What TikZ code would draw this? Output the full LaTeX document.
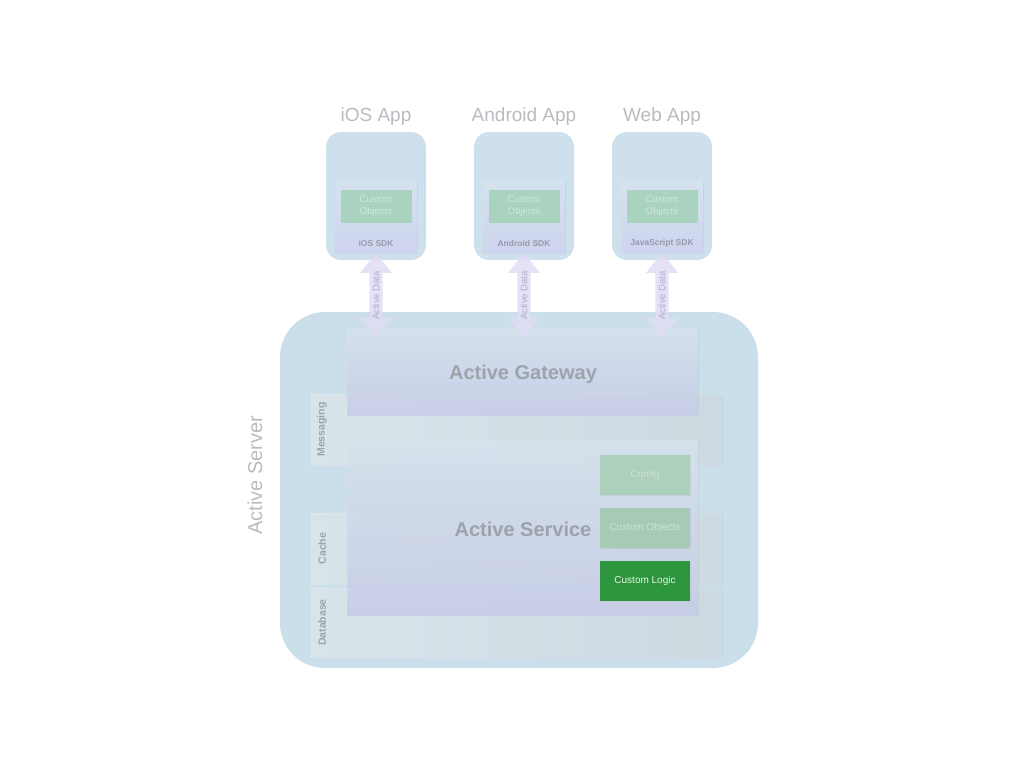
\documentclass[tikz,border=0pt]{standalone}
\usepackage{fontspec}
\setmainfont{Liberation Sans}
\usetikzlibrary{shapes.arrows,shadows}

\definecolor{srvblue}{RGB}{203,223,234}
\definecolor{appblue}{RGB}{205,224,236}
\definecolor{sdktop}{RGB}{212,227,238}
\definecolor{sdkbottom}{RGB}{206,212,238}
\definecolor{sdkgreen}{RGB}{170,211,191}
\definecolor{objtext}{RGB}{206,230,218}
\definecolor{gwtop}{RGB}{216,229,239}
\definecolor{gwbottom}{RGB}{200,205,234}
\definecolor{bandleft}{RGB}{222,233,238}
\definecolor{bandright}{RGB}{208,220,226}
\definecolor{fadegreen}{RGB}{172,208,186}
\definecolor{parttext}{RGB}{204,227,212}
\definecolor{logicgreen}{RGB}{45,150,60}
\definecolor{logictext}{RGB}{232,242,232}
\definecolor{titlegray}{RGB}{184,187,191}
\definecolor{labelgray}{RGB}{156,163,171}
\definecolor{sdkgray}{RGB}{150,155,172}
\definecolor{arrowfill}{RGB}{224,220,245}
\definecolor{arrowtext}{RGB}{176,176,196}

\begin{document}
\begin{tikzpicture}[x=1pt, y=-1pt]
        % Define styles
        \tikzstyle{softshadow}=[drop shadow={opacity=0.12, shadow xshift=0.8pt, shadow yshift=-1.2pt}]
        \tikzstyle{app}=[rectangle, rounded corners=15pt, fill=appblue, minimum width=100pt, minimum height=128pt]
        \tikzstyle{apptitle}=[font=\fontsize{19}{22}\selectfont, text=titlegray]
        \tikzstyle{sdk}=[rectangle, top color=sdktop, bottom color=sdkbottom, minimum width=82pt, minimum height=72pt, softshadow]
        \tikzstyle{objbox}=[rectangle, fill=sdkgreen, minimum width=71pt, minimum height=33pt, inner sep=0pt, align=center, text=objtext, font=\fontsize{9.5}{12}\selectfont]
        \tikzstyle{sdklabel}=[font=\fontsize{8.5}{10}\selectfont\bfseries, text=sdkgray]
        \tikzstyle{dataarrow}=[double arrow, rotate=90, fill=arrowfill, fill opacity=0.85, text opacity=1, text=arrowtext, font=\fontsize{9.5}{10}\selectfont, inner xsep=0pt, inner ysep=3pt, minimum height=85pt, minimum width=32pt, double arrow head extend=9.5pt, double arrow tip angle=78]
        \tikzstyle{band}=[rectangle, left color=bandleft, right color=bandright, fill opacity=0.8, minimum width=411pt, softshadow]
        \tikzstyle{bandlabel}=[rotate=90, font=\fontsize{10.5}{12}\selectfont\bfseries, text=labelgray]
        \tikzstyle{layer}=[rectangle, top color=gwtop, bottom color=gwbottom, fill opacity=0.82, minimum width=351pt, softshadow]
        \tikzstyle{layerlabel}=[font=\fontsize{20}{24}\selectfont\bfseries, text=labelgray]
        \tikzstyle{part}=[rectangle, fill=fadegreen, minimum width=90pt, minimum height=40pt, text=parttext, font=\fontsize{10}{12}\selectfont, softshadow]

        \useasboundingbox (0,0) rectangle (1024,768);

        % Active Server (background)
        \node[rectangle, rounded corners=45pt, fill=srvblue, minimum width=478pt, minimum height=356pt] (server) at (519,490) {};
        \node[rotate=90, font=\fontsize{20}{24}\selectfont, text=titlegray] (serverlabel) at (255,475) {Active Server};

        % Apps
        \node[app] (iosapp) at (376,196) {};
        \node[app] (androidapp) at (524,196) {};
        \node[app] (webapp) at (662,196) {};
        \node[apptitle] (iostitle) at (376,117) {iOS App};
        \node[apptitle] (androidtitle) at (524,117) {Android App};
        \node[apptitle] (webtitle) at (662,117) {Web App};

        % SDKs
        \node[sdk] (iossdk) at (376,217) {};
        \node[sdk] (androidsdk) at (524,217) {};
        \node[sdk] (websdk) at (662,217) {};
        \node[objbox] (iosobj) at (376,206.5) {Custom\\Objects};
        \node[objbox] (androidobj) at (524,206.5) {Custom\\Objects};
        \node[objbox] (webobj) at (662,206.5) {Custom\\Objects};
        \node[sdklabel] at (376,243) {iOS SDK};
        \node[sdklabel] at (524,243) {Android SDK};
        \node[sdklabel] at (662,243) {JavaScript SDK};

        % Bands
        \node[band, minimum height=71pt] (messaging) at (516.5,429.5) {};
        \node[band, minimum height=71pt] (cache) at (516.5,548.5) {};
        \node[band, minimum height=69pt] (database) at (516.5,622.5) {};
        \node[bandlabel] at (322,429.5) {Messaging};
        \node[bandlabel] at (322,548.5) {Cache};
        \node[bandlabel] at (322,622.5) {Database};

        % Gateway and Service
        \node[layer, minimum height=86pt] (gateway) at (522.5,372) {};
        \node[layerlabel] at (523,374) {Active Gateway};
        \node[layer, minimum height=175pt] (service) at (522.5,527.5) {};
        \node[layerlabel] at (523,529) {Active Service};

        % Service parts
        \node[part] (config) at (645,475) {Config};
        \node[part, fill=fadegreen!95!black!60!fadegreen] (customobj) at (645,528) {Custom Objects};
        \node[part, fill=logicgreen, text=logictext] (customlogic) at (645,581) {Custom Logic};

        % Active Data arrows
        \node[dataarrow] (iosdata) at (376,295.5) {Active Data};
        \node[dataarrow] (androiddata) at (524,295.5) {Active Data};
        \node[dataarrow] (webdata) at (662,295.5) {Active Data};

    \end{tikzpicture}
\end{document}
